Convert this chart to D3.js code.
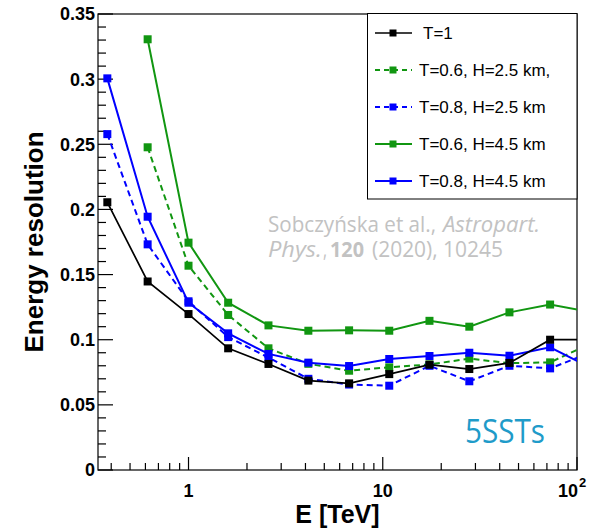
<!DOCTYPE html>
<html>
<head>
<meta charset="utf-8">
<script src="https://cdn.jsdelivr.net/npm/d3@7"></script>
<style>
  body { margin: 0; background: #fff; }
  svg { display: block; font-family: "Liberation Sans", Arial, sans-serif; }
</style>
</head>
<body>
<div id="chart"></div>
<script>
// energies of the bins (TeV); last one lies off the axis
var energy = [0.382, 0.616, 1.0, 1.6, 2.58, 4.14, 6.71, 10.8, 17.4, 27.9, 44.9, 72.7, 117];

// energy resolution for each configuration (null = no point)
var t1      = [0.2055, 0.1447, 0.1197, 0.0934, 0.0814, 0.0686, 0.0665, 0.0736, 0.0808, 0.0775, 0.0822, 0.1000, 0.1000];
var t06h25  = [null,   0.2477, 0.1568, 0.1190, 0.0934, 0.0815, 0.0762, 0.0788, 0.0810, 0.0855, 0.0820, 0.0826, 0.0970];
var t08h25  = [0.2578, 0.1732, 0.1295, 0.1020, 0.0863, 0.0700, 0.0656, 0.0647, 0.0800, 0.0681, 0.0800, 0.0780, 0.0900];
var t06h45  = [null,   0.3306, 0.1745, 0.1284, 0.1110, 0.1069, 0.1072, 0.1069, 0.1145, 0.1100, 0.1210, 0.1270, 0.1214];
var t08h45  = [0.3006, 0.1944, 0.1284, 0.1049, 0.0891, 0.0824, 0.0798, 0.0852, 0.0875, 0.0900, 0.0877, 0.0942, 0.0786];

var seriesLabels = ["T=1", "T=0.6, H=2.5 km,", "T=0.8, H=2.5 km", "T=0.6, H=4.5 km", "T=0.8, H=4.5 km"];
var yTickValues = [0, 0.05, 0.1, 0.15, 0.2, 0.25, 0.3, 0.35];
var yTickLabels = ["0", "0.05", "0.1", "0.15", "0.2", "0.25", "0.3", "0.35"];

var width = 600, height = 529;
var pLeft = 98, pRight = 577, pTop = 14, pBottom = 470;

var green = "#119611", blue = "#0000ff";
var series = [
  {label: seriesLabels[1], values: t06h25, color: green, dash: "6,4", w: 2},
  {label: seriesLabels[2], values: t08h25, color: blue, dash: "6,4", w: 2},
  {label: seriesLabels[3], values: t06h45, color: green, dash: null, w: 2},
  {label: seriesLabels[4], values: t08h45, color: blue, dash: null, w: 2},
  {label: seriesLabels[0], values: t1, color: "#000", dash: null, w: 1.7}
];
var legendOrder = [4, 0, 1, 2, 3];

var svg = d3.select("#chart").append("svg")
  .attr("width", width)
  .attr("height", height);

var x = d3.scaleLog().domain([0.342, 100]).range([pLeft, pRight]);
var y = d3.scaleLinear().domain([0, 0.35]).range([pBottom, pTop]);

svg.append("clipPath").attr("id", "plotclip")
  .append("rect")
  .attr("x", pLeft).attr("y", pTop)
  .attr("width", pRight - pLeft).attr("height", pBottom - pTop);

//annotation texts (behind the data), one piece per style run
var cite = svg.append("g").attr("fill", "#c2c2c2")
  .style("font-family", "'Open Sans', sans-serif").style("font-size", "21px");
function citePiece(tx, x0, y0, len, style, weight) {
  cite.append("text")
    .attr("x", x0).attr("y", y0)
    .attr("textLength", len).attr("lengthAdjust", "spacingAndGlyphs")
    .attr("font-style", style || null)
    .attr("font-weight", weight || null)
    .text(tx);
}
citePiece("Sobczyńska et al.,", 268, 232, 168);
citePiece("Astropart.", 443, 232, 97, "italic");
citePiece("Phys.", 268, 257, 54, "italic");
citePiece(",", 323, 257, 4);
citePiece("120", 330, 257, 34, null, "bold");
citePiece("(2020), 10245", 372, 257, 131);

svg.append("text")
  .attr("x", 465).attr("y", 443)
  .attr("textLength", 80).attr("lengthAdjust", "spacingAndGlyphs")
  .attr("fill", "#1f9bc9")
  .style("font-family", "'Open Sans', sans-serif")
  .style("font-size", "32px")
  .text("5SSTs");

//frame
svg.append("rect")
  .attr("x", pLeft).attr("y", pTop)
  .attr("width", pRight - pLeft).attr("height", pBottom - pTop)
  .attr("fill", "none").attr("stroke", "#000").attr("stroke-width", 1.2);

//y ticks (inside the frame)
var yMinor = d3.range(0, 36).map(function(i) { return i / 100; });
svg.append("g").selectAll("line")
  .data(yMinor)
  .enter().append("line")
  .attr("x1", pLeft)
  .attr("x2", function(d, i) { return pLeft + (i % 5 === 0 ? 15 : 8); })
  .attr("y1", function(d) { return y(d); })
  .attr("y2", function(d) { return y(d); })
  .attr("stroke", "#000").attr("stroke-width", 1.2);

svg.append("g").selectAll("text")
  .data(yTickValues)
  .enter().append("text")
  .attr("x", 95)
  .attr("y", function(d) { return y(d); })
  .attr("dy", "0.36em")
  .attr("text-anchor", "end")
  .style("font-size", "18px").style("font-weight", "bold")
  .text(function(d, i) { return yTickLabels[i]; });

//x ticks (log axis, inside the frame)
var xTicks = x.ticks().filter(function(d) { return d >= 0.342 && d <= 100; });
svg.append("g").selectAll("line")
  .data(xTicks)
  .enter().append("line")
  .attr("x1", function(d) { return x(d); })
  .attr("x2", function(d) { return x(d); })
  .attr("y1", pBottom)
  .attr("y2", function(d) {
    var l = Math.log10(d);
    return pBottom - (Math.abs(l - Math.round(l)) < 1e-6 ? 13 : 7);
  })
  .attr("stroke", "#000").attr("stroke-width", 1.2);

var xl = svg.append("g").style("font-size", "18px").style("font-weight", "bold");
xl.append("text").attr("x", x(1)).attr("y", 497).attr("text-anchor", "middle").text("1");
xl.append("text").attr("x", x(10)).attr("y", 497).attr("text-anchor", "middle").text("10");
xl.append("text").attr("x", 578).attr("y", 497).attr("text-anchor", "end").text("10");
xl.append("text").attr("x", 579).attr("y", 487).style("font-size", "13px").text("2");

//axis titles
svg.append("text")
  .attr("x", (pLeft + pRight) / 2).attr("y", 523)
  .attr("text-anchor", "middle")
  .style("font-size", "25px").style("font-weight", "bold")
  .text("E [TeV]");

svg.append("text")
  .attr("transform", "translate(43," + ((pTop + pBottom) / 2) + ") rotate(-90)")
  .attr("text-anchor", "middle")
  .style("font-size", "26px").style("font-weight", "bold")
  .text("Energy resolution");

//data lines and markers
var line = d3.line()
  .defined(function(d) { return d.v !== null; })
  .x(function(d) { return x(d.e); })
  .y(function(d) { return y(d.v); });

var plot = svg.append("g").attr("clip-path", "url(#plotclip)");
series.forEach(function(s) {
  var pts = s.values.map(function(v, i) { return {e: energy[i], v: v}; });
  plot.append("path")
    .datum(pts)
    .attr("d", line)
    .attr("fill", "none")
    .attr("stroke", s.color)
    .attr("stroke-width", s.w)
    .attr("stroke-dasharray", s.dash);
  plot.append("g").selectAll("rect")
    .data(pts.filter(function(d) { return d.v !== null; }))
    .enter().append("rect")
    .attr("x", function(d) { return x(d.e) - 4; })
    .attr("y", function(d) { return y(d.v) - 4; })
    .attr("width", 8).attr("height", 8)
    .attr("fill", s.color);
});

//legend
var lg = svg.append("g");
lg.append("rect")
  .attr("x", 367.5).attr("y", 13.5)
  .attr("width", pRight - 367.5).attr("height", 185.5)
  .attr("fill", "#fff").attr("stroke", "#000").attr("stroke-width", 1);

legendOrder.forEach(function(k, i) {
  var s = series[k];
  var cy = 33 + i * 37;
  lg.append("line")
    .attr("x1", 375).attr("x2", 412)
    .attr("y1", cy).attr("y2", cy)
    .attr("stroke", s.color).attr("stroke-width", s.w)
    .attr("stroke-dasharray", s.dash ? "5,4" : null);
  lg.append("rect")
    .attr("x", 389.5).attr("y", cy - 3.5)
    .attr("width", 7).attr("height", 7)
    .attr("fill", s.color);
  lg.append("text")
    .attr("x", k === 4 ? 423 : 419).attr("y", cy)
    .attr("dy", "0.36em")
    .style("font-size", "17px")
    .text(s.label);
});
</script>
</body>
</html>
